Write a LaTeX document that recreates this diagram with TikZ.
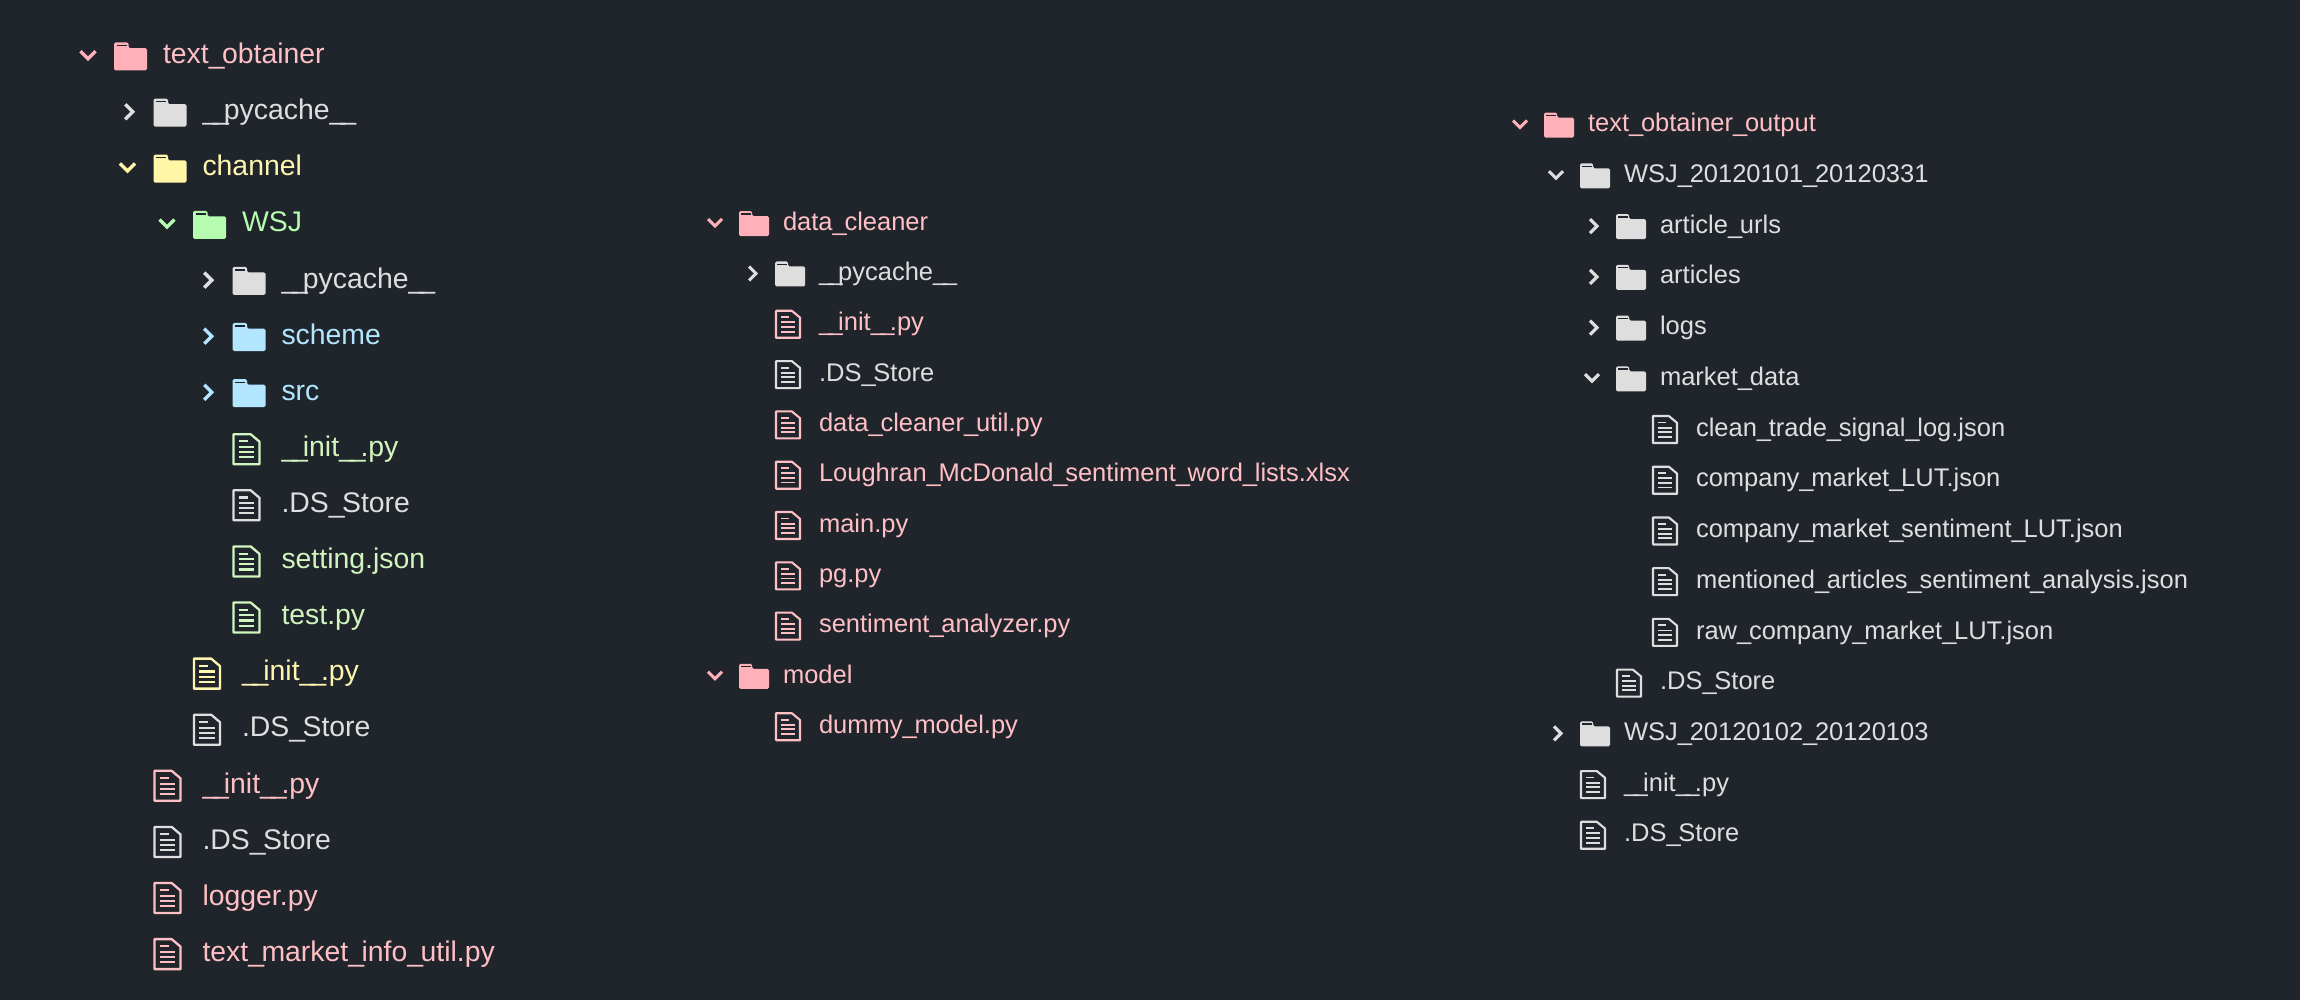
\documentclass[tikz,border=0pt]{standalone}
\usepackage{fontspec}
\setmainfont{Liberation Sans}
\definecolor{bgc}{HTML}{20252C}
\definecolor{cpink}{HTML}{FFB0B8}
\definecolor{cgray}{HTML}{DEDEDE}
\definecolor{cyel}{HTML}{FFF6A6}
\definecolor{cgrn}{HTML}{B6FCB0}
\definecolor{cblu}{HTML}{B2E6FF}
\definecolor{tpink}{HTML}{FFC0C5}
\definecolor{tgrn}{HTML}{D0F5BE}
\definecolor{tyel}{HTML}{FFF6B0}
\newcommand\us{\_\kern-0.09em}
\newcommand\dus{\_\kern-0.18em\_\kern-0.18em}
\tikzset{
  x=1pt,y=-1pt,
  chev/.style={line width=\chevw pt,line cap=butt,line join=miter},
  ficon/.style={line width=\filew pt,line join=round},
  ftext/.style={anchor=base west,inner sep=0pt,outer sep=0pt},
}
\newcommand\setbig{\def\W{33}\def\H{28}\def\FW{26}\def\FH{30}\def\TO{49}\def\CO{-26}\def\CS{7.5}\def\chevw{3.4}\def\filew{2.3}\def\BL{9.7}\def\stp{39.5}\def\FO{1}\def\FS{28.4}\def\IO{2.5}\def\LW{2.1}}
\newcommand\setsmall{\def\W{30}\def\H{25}\def\FW{24}\def\FH{27}\def\TO{44}\def\CO{-24}\def\CS{7}\def\chevw{3.1}\def\filew{2.1}\def\BL{8.8}\def\stp{36}\def\FO{1}\def\FS{25.5}\def\IO{2.2}\def\LW{1.9}}
% #1 col, #2 x, #3 y centre
\newcommand\foldericon[3]{%
  \pgfmathsetmacro\xa{#2}\pgfmathsetmacro\xb{#2+\W}\pgfmathsetmacro\xt{#2+0.44*\W}%
  \pgfmathsetmacro\ya{#3+\IO-0.5*\H}\pgfmathsetmacro\yb{#3+\IO+0.5*\H}\pgfmathsetmacro\ym{\ya+0.2*\H}%
  \fill[#1,rounded corners=1.5pt] (\xa,\ya) -- (\xt,\ya) -- (\xt,\ym) -- (\xb,\ym) -- (\xb,\yb) -- (\xa,\yb) -- cycle;
  \pgfmathsetmacro\yl{\ya+0.11*\H}\pgfmathsetmacro\xla{\xa+0.08*\W}\pgfmathsetmacro\xlb{\xt-0.05*\W}%
  \draw[bgc,line width=1.3pt] (\xla,\yl) -- (\xlb,\yl);
}
% #1 col, #2 x, #3 y
\newcommand\fileicon[3]{%
  \pgfmathsetmacro\xa{#2+\FO}\pgfmathsetmacro\xb{#2+\FO+\FW}\pgfmathsetmacro\xf{#2+\FO+0.66*\FW}%
  \pgfmathsetmacro\ya{#3+\IO-0.5*\FH}\pgfmathsetmacro\yb{#3+\IO+0.5*\FH}\pgfmathsetmacro\yf{\ya+0.25*\FH}%
  \draw[#1,ficon] (\xa,\ya) -- (\xf,\ya) -- (\xb,\yf) -- (\xb,\yb) -- (\xa,\yb) -- cycle;
  \pgfmathsetmacro\xc{\xa+0.2*\FW}\pgfmathsetmacro\xd{\xb-0.2*\FW}\pgfmathsetmacro\xe{\xa+0.55*\FW}%
  \pgfmathsetmacro\ln{\ya+0.24*\FH}\draw[#1,line width=\LW pt] (\xc,\ln) -- (\xe,\ln);
  \foreach \k in {0.43,0.60,0.77}{\pgfmathsetmacro\ln{\ya+\k*\FH}\draw[#1,line width=\LW pt] (\xc,\ln) -- (\xd,\ln);}
}
\newcommand\chevopen[3]{%
  \pgfmathsetmacro\xc{#2+\CO}\pgfmathsetmacro\xl{\xc-\CS}\pgfmathsetmacro\xr{\xc+\CS}\pgfmathsetmacro\yt{#3+1-\CS*0.5}\pgfmathsetmacro\ybt{#3+1+\CS*0.5}%
  \draw[#1,chev] (\xl,\yt) -- (\xc,\ybt) -- (\xr,\yt);
}
\newcommand\chevclosed[3]{%
  \pgfmathsetmacro\xc{#2+\CO+1.5}\pgfmathsetmacro\xl{\xc-\CS*0.5}\pgfmathsetmacro\xr{\xc+\CS*0.5}\pgfmathsetmacro\ym{#3+1.7}\pgfmathsetmacro\yt{\ym-\CS}\pgfmathsetmacro\ybt{\ym+\CS}%
  \draw[#1,chev] (\xl,\yt) -- (\xr,\ym) -- (\xl,\ybt);
}
\newcommand\lab[5]{% name, x, y, text colour, text
  \pgfmathsetmacro\tx{#2+\TO}\pgfmathsetmacro\ty{#3+\BL}%
  \node[ftext,text=#4,font=\fontsize{\FS}{\FS}\selectfont] (#1) at (\tx,\ty) {#5};
}
% name, base x, level, y, colour, text colour, text
\newcommand\ofold[7]{\pgfmathsetmacro\lx{#2+#3*\stp}\pgfmathsetmacro\ly{#4}%
  \chevopen{#5}{\lx}{\ly}\foldericon{#5}{\lx}{\ly}\lab{#1}{\lx}{\ly}{#6}{#7}}
\newcommand\cfold[7]{\pgfmathsetmacro\lx{#2+#3*\stp}\pgfmathsetmacro\ly{#4}%
  \chevclosed{#5}{\lx}{\ly}\foldericon{#5}{\lx}{\ly}\lab{#1}{\lx}{\ly}{#6}{#7}}
\newcommand\afile[7]{\pgfmathsetmacro\lx{#2+#3*\stp}\pgfmathsetmacro\ly{#4}%
  \fileicon{#5}{\lx}{\ly}\lab{#1}{\lx}{\ly}{#6}{#7}}
\begin{document}
\begin{tikzpicture}
\useasboundingbox (0,0) rectangle (2300,1000);
\fill[bgc] (0,0) rectangle (2300,1000);
\setbig
\def\BX{114}
\newcommand\ra[1]{54+56.1*#1}
\ofold{a0}{\BX}{0}{\ra{0}}{cpink}{tpink}{text\us obtainer}
\cfold{a1}{\BX}{1}{\ra{1}}{cgray}{cgray}{\dus pycache\dus}
\ofold{a2}{\BX}{1}{\ra{2}}{cyel}{tyel}{channel}
\ofold{a3}{\BX}{2}{\ra{3}}{cgrn}{cgrn}{WSJ}
\cfold{a4}{\BX}{3}{\ra{4}}{cgray}{cgray}{\dus pycache\dus}
\cfold{a5}{\BX}{3}{\ra{5}}{cblu}{cblu}{scheme}
\cfold{a6}{\BX}{3}{\ra{6}}{cblu}{cblu}{src}
\afile{a7}{\BX}{3}{\ra{7}}{tgrn}{tgrn}{\dus init\dus .py}
\afile{a8}{\BX}{3}{\ra{8}}{cgray}{cgray}{.DS\us Store}
\afile{a9}{\BX}{3}{\ra{9}}{tgrn}{tgrn}{setting.json}
\afile{a10}{\BX}{3}{\ra{10}}{tgrn}{tgrn}{test.py}
\afile{a11}{\BX}{2}{\ra{11}}{tyel}{tyel}{\dus init\dus .py}
\afile{a12}{\BX}{2}{\ra{12}}{cgray}{cgray}{.DS\us Store}
\afile{a13}{\BX}{1}{\ra{13}}{tpink}{tpink}{\dus init\dus .py}
\afile{a14}{\BX}{1}{\ra{14}}{cgray}{cgray}{.DS\us Store}
\afile{a15}{\BX}{1}{\ra{15}}{tpink}{tpink}{logger.py}
\afile{a16}{\BX}{1}{\ra{16}}{tpink}{tpink}{text\us market\us info\us util.py}
\setsmall
\def\BX{739}
\newcommand\rb[1]{221.5+50.3*#1}
\ofold{b0}{\BX}{0}{\rb{0}}{cpink}{tpink}{data\us cleaner}
\cfold{b1}{\BX}{1}{\rb{1}}{cgray}{cgray}{\dus pycache\dus}
\afile{b2}{\BX}{1}{\rb{2}}{tpink}{tpink}{\dus init\dus .py}
\afile{b3}{\BX}{1}{\rb{3}}{cgray}{cgray}{.DS\us Store}
\afile{b4}{\BX}{1}{\rb{4}}{tpink}{tpink}{data\us cleaner\us util.py}
\afile{b5}{\BX}{1}{\rb{5}}{tpink}{tpink}{Loughran\us McDonald\us sentiment\us word\us lists.xlsx}
\afile{b6}{\BX}{1}{\rb{6}}{tpink}{tpink}{main.py}
\afile{b7}{\BX}{1}{\rb{7}}{tpink}{tpink}{pg.py}
\afile{b8}{\BX}{1}{\rb{8}}{tpink}{tpink}{sentiment\us analyzer.py}
\ofold{b9}{\BX}{0}{\rb{9}}{cpink}{tpink}{model}
\afile{b10}{\BX}{1}{\rb{10}}{tpink}{tpink}{dummy\us model.py}
\def\BX{1544}
\newcommand\rc[1]{123+50.72*#1}
\ofold{c0}{\BX}{0}{\rc{0}}{cpink}{tpink}{text\us obtainer\us output}
\ofold{c1}{\BX}{1}{\rc{1}}{cgray}{cgray}{WSJ\us 20120101\us 20120331}
\cfold{c2}{\BX}{2}{\rc{2}}{cgray}{cgray}{article\us urls}
\cfold{c3}{\BX}{2}{\rc{3}}{cgray}{cgray}{articles}
\cfold{c4}{\BX}{2}{\rc{4}}{cgray}{cgray}{logs}
\ofold{c5}{\BX}{2}{\rc{5}}{cgray}{cgray}{market\us data}
\afile{c6}{\BX}{3}{\rc{6}}{cgray}{cgray}{clean\us trade\us signal\us log.json}
\afile{c7}{\BX}{3}{\rc{7}}{cgray}{cgray}{company\us market\us LUT.json}
\afile{c8}{\BX}{3}{\rc{8}}{cgray}{cgray}{company\us market\us sentiment\us LUT.json}
\afile{c9}{\BX}{3}{\rc{9}}{cgray}{cgray}{mentioned\us articles\us sentiment\us analysis.json}
\afile{c10}{\BX}{3}{\rc{10}}{cgray}{cgray}{raw\us company\us market\us LUT.json}
\afile{c11}{\BX}{2}{\rc{11}}{cgray}{cgray}{.DS\us Store}
\cfold{c12}{\BX}{1}{\rc{12}}{cgray}{cgray}{WSJ\us 20120102\us 20120103}
\afile{c13}{\BX}{1}{\rc{13}}{cgray}{cgray}{\dus init\dus .py}
\afile{c14}{\BX}{1}{\rc{14}}{cgray}{cgray}{.DS\us Store}
\end{tikzpicture}
\end{document}
